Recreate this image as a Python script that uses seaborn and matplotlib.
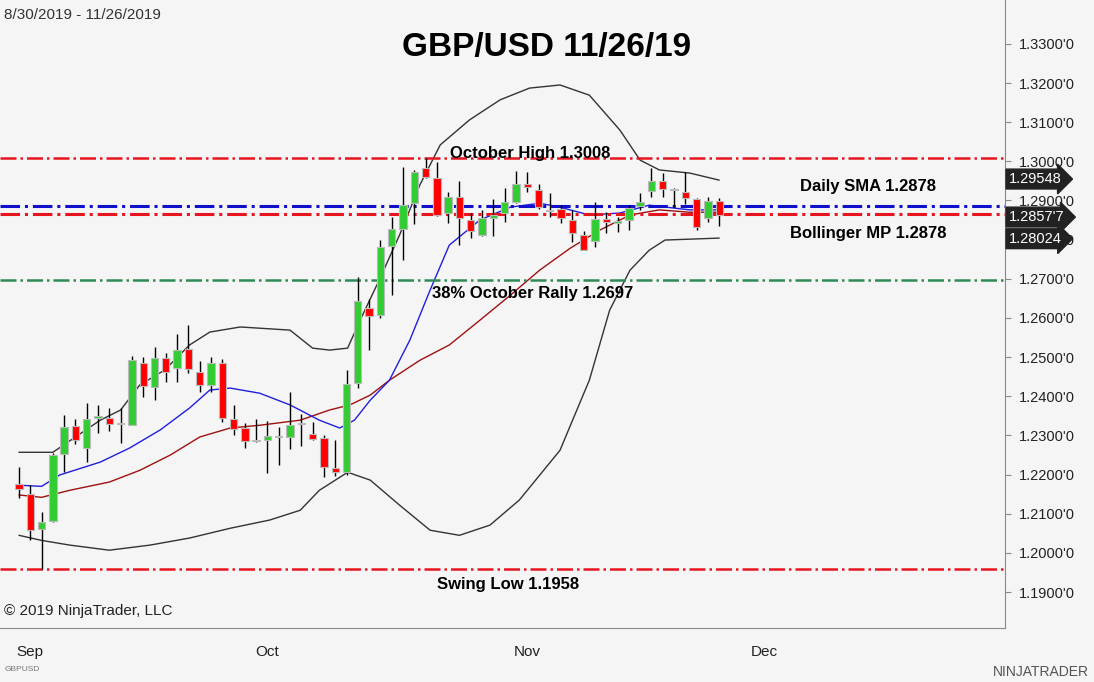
import numpy as np
import pandas as pd
import seaborn as sns
import matplotlib.pyplot as plt

sns.set_style("white")
plt.rcParams['font.family'] = ['Liberation Sans', 'DejaVu Sans']
plt.rcParams['text.color'] = "black"

# daily OHLC, Aug 30 - Nov 26 2019 (one bar per trading day)
opens = [1.2176, 1.2150, 1.2061, 1.2081, 1.2252, 1.2324, 1.2268, 1.2344, 1.2344, 1.2329,
         1.2327, 1.2485, 1.2424, 1.2498, 1.2472, 1.2521, 1.2462, 1.2429, 1.2485, 1.2342,
         1.2319, 1.2286, 1.2288, 1.2296, 1.2296, 1.2329, 1.2303, 1.2293, 1.2217, 1.2206,
         1.2434, 1.2625, 1.2608, 1.2784, 1.2827, 1.2894, 1.2983, 1.2958, 1.2868, 1.2909,
         1.2850, 1.2812, 1.2855, 1.2868, 1.2896, 1.2942, 1.2927, 1.2876, 1.2878, 1.2850,
         1.2812, 1.2797, 1.2853, 1.2843, 1.2850, 1.2886, 1.2924, 1.2950, 1.2927, 1.2922,
         1.2904, 1.2855, 1.2899]
highs = [1.2219, 1.2173, 1.2104, 1.2255, 1.2352, 1.2342, 1.2383, 1.2378, 1.2370, 1.2370,
         1.2503, 1.2500, 1.2526, 1.2510, 1.2559, 1.2582, 1.2490, 1.2500, 1.2495, 1.2378,
         1.2332, 1.2342, 1.2337, 1.2321, 1.2411, 1.2355, 1.2334, 1.2301, 1.2288, 1.2467,
         1.2705, 1.2648, 1.2799, 1.2858, 1.2986, 1.2978, 1.3008, 1.2999, 1.2922, 1.2950,
         1.2868, 1.2876, 1.2904, 1.2932, 1.2976, 1.2973, 1.2942, 1.2919, 1.2889, 1.2876,
         1.2822, 1.2896, 1.2871, 1.2858, 1.2889, 1.2919, 1.2983, 1.2970, 1.2932, 1.2973,
         1.2907, 1.2909, 1.2907]
lows = [1.2140, 1.2033, 1.1958, 1.2078, 1.2206, 1.2278, 1.2232, 1.2306, 1.2311, 1.2281,
        1.2327, 1.2398, 1.2390, 1.2436, 1.2436, 1.2459, 1.2411, 1.2411, 1.2334, 1.2301,
        1.2268, 1.2283, 1.2204, 1.2224, 1.2265, 1.2273, 1.2288, 1.2194, 1.2196, 1.2199,
        1.2420, 1.2518, 1.2600, 1.2659, 1.2748, 1.2840, 1.2958, 1.2860, 1.2843, 1.2786,
        1.2804, 1.2809, 1.2809, 1.2845, 1.2894, 1.2922, 1.2878, 1.2858, 1.2843, 1.2794,
        1.2774, 1.2781, 1.2817, 1.2820, 1.2825, 1.2876, 1.2909, 1.2909, 1.2884, 1.2891,
        1.2825, 1.2845, 1.2835]
closes = [1.2163, 1.2058, 1.2079, 1.2250, 1.2321, 1.2288, 1.2342, 1.2350, 1.2329, 1.2330,
          1.2493, 1.2426, 1.2498, 1.2462, 1.2518, 1.2470, 1.2429, 1.2485, 1.2344, 1.2316,
          1.2286, 1.2286, 1.2298, 1.2296, 1.2327, 1.2331, 1.2291, 1.2219, 1.2206, 1.2431,
          1.2643, 1.2605, 1.2781, 1.2827, 1.2889, 1.2973, 1.2960, 1.2863, 1.2909, 1.2855,
          1.2822, 1.2855, 1.2863, 1.2896, 1.2942, 1.2935, 1.2884, 1.2874, 1.2855, 1.2817,
          1.2774, 1.2853, 1.2845, 1.2848, 1.2881, 1.2896, 1.2950, 1.2930, 1.2927, 1.2907,
          1.2832, 1.2899, 1.2863]

# indicator lines (bar index, price)
upper_x = [0, 3, 7.2, 9, 10.7, 12.9, 15.1, 16.9, 19.6, 24, 26, 27.5, 29.1, 30.2, 31.9, 33.7,
           35.5, 37.3, 39.9, 42.6, 45.2, 47.9, 50.5, 53.2, 55, 56.7, 59.4, 62]
upper_y = [1.2257, 1.2257, 1.2339, 1.2365, 1.2429, 1.2467, 1.2531, 1.2564, 1.2577, 1.2569,
           1.2523, 1.2518, 1.2523, 1.2594, 1.2697, 1.2812, 1.2940, 1.3042, 1.3106, 1.3157,
           1.3187, 1.3195, 1.3169, 1.3080, 1.3003, 1.2978, 1.2970, 1.2952]
lower_x = [0, 2, 4.5, 8, 11.6, 15.1, 18.7, 22.2, 24.9, 26.6, 29.1, 31.1, 33.7, 36.4, 39,
           41.7, 44.3, 47.9, 50.5, 52.3, 54.1, 55.8, 57.2, 62]
lower_y = [1.2045, 1.2032, 1.2020, 1.2007, 1.2020, 1.2038, 1.2063, 1.2084, 1.2109, 1.2160,
           1.2206, 1.2186, 1.2122, 1.2058, 1.2045, 1.2071, 1.2135, 1.2262, 1.2441, 1.2620,
           1.2722, 1.2773, 1.2799, 1.2804]
mid_x = [0, 2, 3.6, 7.2, 9.8, 12.5, 15.1, 16.9, 18.7, 21.3, 24, 26.6, 28.4, 29.7, 31.1, 32.8,
         34.6, 36.4, 38.1, 40.8, 43.5, 46.1, 47.9, 50.5, 53.2, 55.8, 59.4, 62]
mid_y = [1.2173, 1.2170, 1.2199, 1.2232, 1.2268, 1.2314, 1.2370, 1.2416, 1.2421, 1.2408,
         1.2378, 1.2339, 1.2319, 1.2339, 1.2390, 1.2441, 1.2543, 1.2671, 1.2786, 1.2850,
         1.2883, 1.2893, 1.2883, 1.2863, 1.2868, 1.2888, 1.2876, 1.2876]
sma_x = [0, 2, 4.5, 8, 10.7, 13.4, 16, 18.7, 21.3, 24.9, 27.5, 29.3, 31.1, 32.8, 35.5, 38.1,
         40.8, 43.5, 46.1, 48.8, 51.4, 54.1, 56.7, 59.4, 62]
sma_y = [1.2148, 1.2142, 1.2160, 1.2181, 1.2211, 1.2250, 1.2296, 1.2319, 1.2326, 1.2339,
         1.2365, 1.2378, 1.2403, 1.2441, 1.2492, 1.2531, 1.2594, 1.2658, 1.2722, 1.2778,
         1.2824, 1.2863, 1.2876, 1.2870, 1.2870]

month_ticks = [1, 22, 45, 66]
month_labels = ["Sep", "Oct", "Nov", "Dec"]
price_ticks = np.arange(1.19, 1.3301, 0.01)

df = pd.DataFrame({"open": opens, "high": highs, "low": lows, "close": closes})
df["x"] = np.arange(len(df))
up = df["close"] >= df["open"]

bg = "#f5f5f5"
fig = plt.figure(figsize=(10.94, 6.82), dpi=100, facecolor=bg)
ax = fig.add_axes([0, 0.079, 0.9186, 0.921], facecolor=bg)

# bands and averages
sns.lineplot(x=upper_x, y=upper_y, ax=ax, color="#333333", lw=1)
sns.lineplot(x=lower_x, y=lower_y, ax=ax, color="#333333", lw=1)
sns.lineplot(x=sma_x, y=sma_y, ax=ax, color="#a01010", lw=1)
sns.lineplot(x=mid_x, y=mid_y, ax=ax, color="#1f1fdd", lw=1)

# candles
ax.vlines(df["x"], df["low"], df["high"], color="black", lw=1, zorder=3)
body = (df["close"] - df["open"]).abs().clip(lower=0.0003)
bottom = df[["open", "close"]].min(axis=1)
ax.bar(df["x"][up], body[up], bottom=bottom[up], width=0.65, color="#32cd32",
       edgecolor="#bbbbbb", lw=0.8, zorder=4)
ax.bar(df["x"][~up], body[~up], bottom=bottom[~up], width=0.65, color="#ff0000",
       edgecolor="#bbbbbb", lw=0.8, zorder=4)

# horizontal levels
ax.axhline(1.3008, color="#e8141e", lw=1.8, ls="-.")
ax.axhline(1.2885, color="#1010cc", lw=2.2, ls="-.")
ax.axhline(1.2866, color="#e8141e", lw=2.2, ls="-.")
ax.axhline(1.2697, color="#2e8b57", lw=1.8, ls="-.")
ax.axhline(1.1958, color="#e8141e", lw=1.8, ls="-.")

lbl = dict(fontsize=12, fontweight="bold", ha="center", va="center", color="black")
ax.text(45.3, 1.3020, "October High 1.3008", **lbl)
ax.text(75.2, 1.2937, "Daily SMA 1.2878", **lbl)
ax.text(75.2, 1.2816, "Bollinger MP 1.2878", **lbl)
ax.text(45.5, 1.2663, "38% October Rally 1.2697", **lbl)
ax.text(43.3, 1.1920, "Swing Low 1.1958", **lbl)

ax.set_xlim(-1.68, 87.3)
ax.set_ylim(1.1808, 1.3412)
ax.yaxis.tick_right()
ax.set_yticks(price_ticks)
ax.set_yticklabels([f"{v:.4f}'0" for v in price_ticks], fontsize=10.5)
ax.set_xticks(month_ticks)
ax.set_xticklabels(month_labels, fontsize=11)
ax.tick_params(axis="y", direction="out", length=4, pad=6, colors="#888888", labelcolor="#222222")
ax.tick_params(axis="x", direction="out", length=4, pad=8, colors="#888888", labelcolor="#222222")
for s in ["top", "left"]:
    ax.spines[s].set_visible(False)
ax.spines["right"].set_color("#888888")
ax.spines["bottom"].set_color("#888888")

# price boxes on the right axis
for val, txt in [(1.29548, "1.29548"), (1.28577, "1.2857'7"), (1.28024, "1.28024")]:
    ax.text(1.004, val, txt, transform=ax.get_yaxis_transform(), fontsize=10.5, color="white",
            va="center", ha="left",
            bbox=dict(boxstyle="rarrow,pad=0.2", fc="#222222", ec="#222222"))

fig.text(0.5, 0.93, "GBP/USD 11/26/19", fontsize=24, fontweight="bold", ha="center",
         va="center", color="black")
fig.text(0.004, 0.978, "8/30/2019 - 11/26/2019", fontsize=11, color="#333333", va="center")
fig.text(0.004, 0.104, "© 2019 NinjaTrader, LLC", fontsize=11, color="#222222", va="center")
fig.text(0.004, 0.018, "GBPUSD", fontsize=6, color="#777777", va="center")
fig.text(0.995, 0.015, "NINJATRADER", fontsize=10, color="#555555", ha="right", va="center")

fig.savefig("out.png", dpi=100, facecolor=bg)
